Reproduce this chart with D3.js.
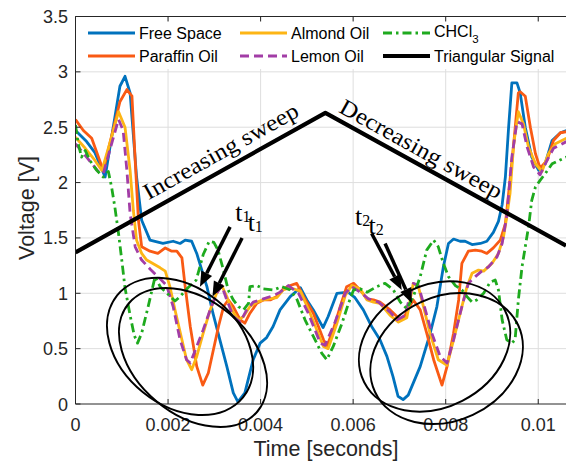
<!DOCTYPE html>
<html><head><meta charset="utf-8">
<script src="https://cdn.jsdelivr.net/npm/d3@7"></script>
<style>body{margin:0;background:#fff}svg{display:block}</style>
</head><body><svg id="chart" width="566" height="464"></svg>
<script>
// ---------- data ----------
const xTicks = [0, 0.002, 0.004, 0.006, 0.008, 0.01];
const xTickLabels = ["0", "0.002", "0.004", "0.006", "0.008", "0.01"];
const yTicks = [0, 0.5, 1, 1.5, 2, 2.5, 3, 3.5];
const yTickLabels = ["0", "0.5", "1", "1.5", "2", "2.5", "3", "3.5"];
const seriesNames = ["Free Space", "Paraffin Oil", "Almond Oil", "Lemon Oil", "CHCl3", "Triangular Signal"];

const freeSpace = [[0,2.47],[0.00024,2.37],[0.00042,2.27],[0.00064,2.05],[0.00096,2.87],[0.00107,2.96],[0.00118,2.81],[0.00132,2.05],[0.00143,1.66],[0.00161,1.48],[0.00189,1.45],[0.00211,1.47],[0.00226,1.45],[0.00237,1.48],[0.00251,1.47],[0.00262,1.36],[0.00273,1.21],[0.00284,1.06],[0.00297,0.82],[0.00312,0.58],[0.00327,0.34],[0.00341,0.10],[0.00351,0.02],[0.00366,0.10],[0.00384,0.40],[0.00399,0.55],[0.00413,0.60],[0.00427,0.70],[0.00442,0.85],[0.00464,0.97],[0.00486,1.05],[0.00500,0.94],[0.00514,0.85],[0.00535,0.69],[0.00546,0.79],[0.00565,1.00],[0.00589,1.01],[0.00604,0.96],[0.00622,0.85],[0.00640,0.70],[0.00658,0.58],[0.00673,0.43],[0.00686,0.25],[0.00697,0.07],[0.00708,0.04],[0.00719,0.08],[0.00745,0.34],[0.00766,0.63],[0.00781,0.88],[0.00795,1.24],[0.00806,1.45],[0.00817,1.49],[0.00831,1.47],[0.00842,1.47],[0.00857,1.44],[0.00875,1.45],[0.00889,1.47],[0.00903,1.55],[0.00914,1.65],[0.00922,1.80],[0.00929,2.05],[0.00936,2.50],[0.00943,2.90],[0.00954,2.90],[0.00961,2.81],[0.00972,2.50],[0.00986,2.23],[0.01001,2.11],[0.01015,2.17],[0.01030,2.38],[0.01048,2.45],[0.01061,2.47]];

const paraffinOil = [[0,2.57],[0.00017,2.47],[0.00035,2.40],[0.00060,2.11],[0.00096,2.73],[0.00111,2.84],[0.00122,2.78],[0.00129,2.20],[0.00136,1.66],[0.00143,1.42],[0.00161,1.38],[0.00178,1.36],[0.00194,1.41],[0.00208,1.38],[0.00219,1.38],[0.00230,1.32],[0.00237,1.06],[0.00248,0.70],[0.00262,0.34],[0.00275,0.17],[0.00287,0.28],[0.00298,0.49],[0.00309,0.70],[0.00320,0.88],[0.00330,0.94],[0.00341,0.88],[0.00356,0.76],[0.00366,0.73],[0.00377,0.82],[0.00392,0.91],[0.00406,0.94],[0.00421,0.94],[0.00435,0.97],[0.00449,1.04],[0.00464,1.07],[0.00478,1.09],[0.00493,0.97],[0.00514,0.82],[0.00536,0.58],[0.00543,0.52],[0.00557,0.67],[0.00572,0.88],[0.00586,1.06],[0.00601,1.09],[0.00615,1.03],[0.00630,0.95],[0.00644,0.94],[0.00658,0.92],[0.00680,0.85],[0.00702,0.76],[0.00712,0.80],[0.00730,0.94],[0.00745,0.85],[0.00759,0.64],[0.00774,0.40],[0.00792,0.17],[0.00803,0.34],[0.00817,0.64],[0.00828,0.94],[0.00835,1.27],[0.00849,1.38],[0.00864,1.39],[0.00878,1.38],[0.00889,1.36],[0.00903,1.41],[0.00918,1.48],[0.00929,1.63],[0.00936,1.90],[0.00947,2.35],[0.00957,2.81],[0.00961,2.82],[0.00972,2.78],[0.00983,2.50],[0.00994,2.26],[0.01004,2.13],[0.01019,2.20],[0.01033,2.38],[0.01048,2.45],[0.01061,2.46]];

const almondOil = [[0,2.41],[0.00021,2.31],[0.00042,2.20],[0.00057,2.11],[0.00078,2.41],[0.00093,2.64],[0.00107,2.50],[0.00118,2.11],[0.00125,1.75],[0.00132,1.48],[0.00143,1.36],[0.00154,1.30],[0.00183,1.23],[0.00194,1.20],[0.00204,1.06],[0.00215,0.85],[0.00230,0.58],[0.00240,0.40],[0.00251,0.31],[0.00262,0.43],[0.00276,0.64],[0.00291,0.85],[0.00305,1.00],[0.00316,1.07],[0.00327,0.97],[0.00338,0.85],[0.00352,0.76],[0.00363,0.79],[0.00377,0.88],[0.00392,0.92],[0.00406,0.94],[0.00435,0.96],[0.00449,1.03],[0.00464,1.05],[0.00486,1.02],[0.00507,0.82],[0.00536,0.52],[0.00546,0.50],[0.00565,0.73],[0.00583,0.98],[0.00597,1.07],[0.00615,1.04],[0.00630,0.94],[0.00644,0.92],[0.00658,0.91],[0.00680,0.80],[0.00698,0.74],[0.00716,0.78],[0.00730,1.09],[0.00741,1.06],[0.00752,0.88],[0.00766,0.64],[0.00784,0.40],[0.00803,0.35],[0.00817,0.58],[0.00835,0.88],[0.00846,1.06],[0.00857,1.18],[0.00871,1.21],[0.00882,1.20],[0.00900,1.27],[0.00914,1.36],[0.00925,1.51],[0.00932,1.69],[0.00939,1.90],[0.00947,2.35],[0.00957,2.64],[0.00968,2.53],[0.00979,2.32],[0.00994,2.17],[0.01008,2.10],[0.01022,2.26],[0.01037,2.35],[0.01061,2.40]];

const lemonOil = [[0,2.35],[0.00024,2.23],[0.00049,2.10],[0.00060,2.08],[0.00078,2.35],[0.00093,2.57],[0.00103,2.47],[0.00111,2.11],[0.00118,1.72],[0.00129,1.42],[0.00143,1.30],[0.00161,1.22],[0.00183,1.13],[0.00197,1.07],[0.00211,0.88],[0.00226,0.58],[0.00240,0.40],[0.00248,0.37],[0.00262,0.52],[0.00276,0.67],[0.00291,0.85],[0.00305,1.00],[0.00316,1.07],[0.00327,0.94],[0.00341,0.79],[0.00356,0.74],[0.00370,0.85],[0.00384,0.92],[0.00406,0.95],[0.00428,0.98],[0.00442,1.01],[0.00460,1.07],[0.00482,1.00],[0.00503,0.82],[0.00529,0.55],[0.00539,0.53],[0.00561,0.74],[0.00583,1.00],[0.00597,1.06],[0.00615,1.01],[0.00633,0.95],[0.00655,0.92],[0.00680,0.83],[0.00695,0.76],[0.00712,0.80],[0.00730,1.09],[0.00741,1.07],[0.00756,0.85],[0.00770,0.64],[0.00788,0.43],[0.00803,0.37],[0.00817,0.58],[0.00835,0.88],[0.00849,1.09],[0.00864,1.15],[0.00878,1.20],[0.00893,1.24],[0.00911,1.33],[0.00922,1.45],[0.00932,1.70],[0.00943,2.23],[0.00954,2.55],[0.00965,2.53],[0.00976,2.32],[0.00990,2.14],[0.01004,2.07],[0.01019,2.20],[0.01033,2.31],[0.01061,2.37]];

const chcl3 = [[0,2.52],[0.00006,2.35],[0.00013,2.23],[0.00021,2.29],[0.00031,2.20],[0.00046,2.11],[0.00060,2.05],[0.00071,2.10],[0.00078,1.96],[0.00085,1.78],[0.00093,1.54],[0.00100,1.30],[0.00107,1.05],[0.00118,0.80],[0.00127,0.62],[0.00134,0.55],[0.00143,0.64],[0.00157,0.88],[0.00172,1.15],[0.00183,1.06],[0.00198,1.00],[0.00215,0.93],[0.00226,0.97],[0.00243,1.05],[0.00261,1.12],[0.00276,1.35],[0.00289,1.47],[0.00299,1.46],[0.00308,1.39],[0.00319,1.22],[0.00330,1.03],[0.00341,0.94],[0.00352,0.88],[0.00363,0.85],[0.00374,0.91],[0.00377,1.06],[0.00392,1.07],[0.00406,1.04],[0.00428,1.03],[0.00446,1.06],[0.00464,1.03],[0.00478,0.95],[0.00496,0.76],[0.00514,0.61],[0.00532,0.46],[0.00543,0.40],[0.00557,0.52],[0.00576,0.73],[0.00590,0.91],[0.00601,1.03],[0.00615,1.04],[0.00630,1.01],[0.00651,1.06],[0.00669,1.09],[0.00687,1.03],[0.00702,0.92],[0.00716,0.86],[0.00730,0.97],[0.00745,1.15],[0.00759,1.39],[0.00774,1.48],[0.00784,1.42],[0.00795,1.27],[0.00806,1.15],[0.00821,1.07],[0.00835,1.03],[0.00846,0.97],[0.00857,0.92],[0.00867,0.94],[0.00882,1.00],[0.00896,1.10],[0.00907,1.12],[0.00914,1.03],[0.00922,0.76],[0.00932,0.58],[0.00943,0.55],[0.00950,0.58],[0.00957,0.94],[0.00965,1.24],[0.00972,1.42],[0.00979,1.60],[0.00986,1.84],[0.00994,1.96],[0.01004,2.02],[0.01015,2.08],[0.01030,2.17],[0.01045,2.20],[0.01061,2.23]];

const triangularSignal = [[0,1.37],[0.0054,2.63],[0.0106,1.43]];

// annotations (data coordinates)
const sweepLabels = [
  {text: "Increasing sweep", t: 0.00158, v: 1.84, seg: 0, len: 174},
  {text: "Decreasing sweep", t: 0.00567, v: 2.64, seg: 1, len: 182}
];
const timeLabels = [
  {main: "t", sub: "1", t: 0.00345, v: 1.65},
  {main: "t", sub: "1", t: 0.00372, v: 1.565},
  {main: "t", sub: "2", t: 0.00604, v: 1.615},
  {main: "t", sub: "2", t: 0.00633, v: 1.54}
];
const arrows = [
  {t0: 0.00334, v0: 1.60, t1: 0.00269, v1: 1.06},
  {t0: 0.00360, v0: 1.50, t1: 0.00296, v1: 0.97},
  {t0: 0.00640, v0: 1.54, t1: 0.00705, v1: 1.03},
  {t0: 0.00669, v0: 1.45, t1: 0.00727, v1: 0.91}
];
const ellipses = [
  {t: 0.00226, v: 0.52, a: 81, b: 59, rot: 39},
  {t: 0.00254, v: 0.42, a: 84, b: 57, rot: 40},
  {t: 0.00776, v: 0.52, a: 79, b: 61, rot: -27},
  {t: 0.00802, v: 0.41, a: 79, b: 62, rot: -25}
];

// ---------- drawing ----------
const svg = d3.select("#chart");
const x = d3.scaleLinear().domain([0, 0.0106]).range([75.5, 566]);
const y = d3.scaleLinear().domain([0, 3.5]).range([404, 16.5]);
const sans = "'Liberation Sans', Arial, Helvetica, sans-serif";
const serif = "'Liberation Serif', 'Times New Roman', serif";
const axisColor = "#262626";

svg.append("rect").attr("width", 566).attr("height", 464).attr("fill", "#fff");

svg.append("clipPath").attr("id", "clip").append("rect")
  .attr("x", x(0)).attr("y", y(3.5)).attr("width", x(0.0106) - x(0)).attr("height", y(0) - y(3.5));

// grid
const grid = svg.append("g").attr("stroke", "#dedede").attr("stroke-width", 1);
xTicks.forEach(t => { if (t > 0) grid.append("line").attr("x1", x(t)).attr("x2", x(t)).attr("y1", y(0)).attr("y2", y(3.5)); });
yTicks.forEach(v => { if (v > 0 && v < 3.5) grid.append("line").attr("x1", x(0)).attr("x2", x(0.0106)).attr("y1", y(v)).attr("y2", y(v)); });

const line = d3.line().x(d => x(d[0])).y(d => y(d[1]));
const styles = [
  {data: freeSpace, color: "#0072BD", w: 2.8, dash: null},
  {data: paraffinOil, color: "#F95A14", w: 2.8, dash: null},
  {data: almondOil, color: "#FDB515", w: 2.8, dash: null},
  {data: lemonOil, color: "#A23DA6", w: 2.8, dash: "9,5"},
  {data: chcl3, color: "#1EAA1E", w: 2.8, dash: "9,4,2.5,4"},
  {data: triangularSignal, color: "#000", w: 4.2, dash: null}
];
const plot = svg.append("g").attr("clip-path", "url(#clip)");
styles.forEach(s => {
  plot.append("path").datum(s.data).attr("d", line).attr("fill", "none")
    .attr("stroke", s.color).attr("stroke-width", s.w).attr("stroke-linejoin", "round")
    .attr("stroke-dasharray", s.dash);
});

// sweep labels
sweepLabels.forEach(l => {
  const p0 = triangularSignal[l.seg], p1 = triangularSignal[l.seg + 1];
  const ang = Math.atan2(y(p1[1]) - y(p0[1]), x(p1[0]) - x(p0[0])) * 180 / Math.PI;
  svg.append("text").attr("transform", `translate(${x(l.t)},${y(l.v)}) rotate(${ang})`)
    .attr("font-family", serif).attr("font-size", 23).attr("fill", "#000")
    .attr("textLength", l.len).attr("lengthAdjust", "spacingAndGlyphs").text(l.text);
});

// legend
svg.append("rect").attr("x", 80).attr("y", 21).attr("width", 486).attr("height", 48).attr("fill", "#fff");
const legCols = [88, 240, 383];
const legRows = [33, 56];
const legOrder = [[0,0],[0,1],[1,0],[1,1],[2,0],[2,1]];
seriesNames.forEach((name, i) => {
  const [c, r] = legOrder[i];
  const lx = legCols[c], ly = legRows[r];
  const s = styles[i];
  svg.append("line").attr("x1", lx).attr("x2", lx + 47).attr("y1", ly).attr("y2", ly)
    .attr("stroke", s.color).attr("stroke-width", s.w).attr("stroke-dasharray", s.dash);
  const tx = svg.append("text").attr("x", lx + 51).attr("y", ly + 5.5)
    .attr("font-family", sans).attr("font-size", 16).attr("fill", "#000");
  if (name === "CHCl3") {
    tx.attr("y", ly + 3.5);
    tx.append("tspan").text("CHCl");
    tx.append("tspan").attr("font-size", 11.5).attr("dy", 6).text("3");
  } else tx.text(name);
});

// axes
const ax = svg.append("g").attr("stroke", axisColor).attr("stroke-width", 1).attr("fill", "none");
ax.append("line").attr("x1", x(0)).attr("x2", x(0.0106)).attr("y1", y(0)).attr("y2", y(0));
ax.append("line").attr("x1", x(0)).attr("x2", x(0.0106)).attr("y1", y(3.5)).attr("y2", y(3.5));
ax.append("line").attr("x1", x(0)).attr("x2", x(0)).attr("y1", y(0)).attr("y2", y(3.5));
xTicks.forEach(t => {
  ax.append("line").attr("x1", x(t)).attr("x2", x(t)).attr("y1", y(0)).attr("y2", y(0) - 5);
  ax.append("line").attr("x1", x(t)).attr("x2", x(t)).attr("y1", y(3.5)).attr("y2", y(3.5) + 5);
});
yTicks.forEach(v => {
  ax.append("line").attr("x1", x(0)).attr("x2", x(0) + 5).attr("y1", y(v)).attr("y2", y(v));
});
xTicks.forEach((t, i) => {
  svg.append("text").attr("x", x(t)).attr("y", 431).attr("text-anchor", "middle")
    .attr("font-family", sans).attr("font-size", 18).attr("fill", axisColor).text(xTickLabels[i]);
});
yTicks.forEach((v, i) => {
  svg.append("text").attr("x", 68).attr("y", y(v) + 6.5).attr("text-anchor", "end")
    .attr("font-family", sans).attr("font-size", 18).attr("fill", axisColor).text(yTickLabels[i]);
});
svg.append("text").attr("x", 326).attr("y", 456).attr("text-anchor", "middle")
  .attr("font-family", sans).attr("font-size", 21.5).attr("fill", axisColor).text("Time [seconds]");
svg.append("text").attr("transform", "translate(34,208) rotate(-90)").attr("text-anchor", "middle")
  .attr("font-family", sans).attr("font-size", 21.5).attr("fill", axisColor).text("Voltage [V]");

// ellipses
ellipses.forEach(e => {
  svg.append("ellipse").attr("cx", x(e.t)).attr("cy", y(e.v)).attr("rx", e.a).attr("ry", e.b)
    .attr("transform", `rotate(${e.rot},${x(e.t)},${y(e.v)})`)
    .attr("fill", "none").attr("stroke", "#000").attr("stroke-width", 2);
});

// arrows
arrows.forEach(a => {
  const X0 = x(a.t0), Y0 = y(a.v0), X1 = x(a.t1), Y1 = y(a.v1);
  const ang = Math.atan2(Y1 - Y0, X1 - X0);
  const L = 15, W = 6;
  const bx = X1 - L * Math.cos(ang), by = Y1 - L * Math.sin(ang);
  svg.append("line").attr("x1", X0).attr("y1", Y0).attr("x2", bx).attr("y2", by)
    .attr("stroke", "#000").attr("stroke-width", 3.5);
  const px = -Math.sin(ang) * W, py = Math.cos(ang) * W;
  svg.append("polygon").attr("points", `${X1},${Y1} ${bx + px},${by + py} ${bx - px},${by - py}`).attr("fill", "#000");
});

// time labels
timeLabels.forEach(l => {
  const tx = svg.append("text").attr("x", x(l.t)).attr("y", y(l.v))
    .attr("font-family", serif).attr("font-size", 26).attr("fill", "#000");
  tx.append("tspan").text(l.main);
  tx.append("tspan").attr("font-size", 16).attr("dy", 1).text(l.sub);
});
</script></body></html>
